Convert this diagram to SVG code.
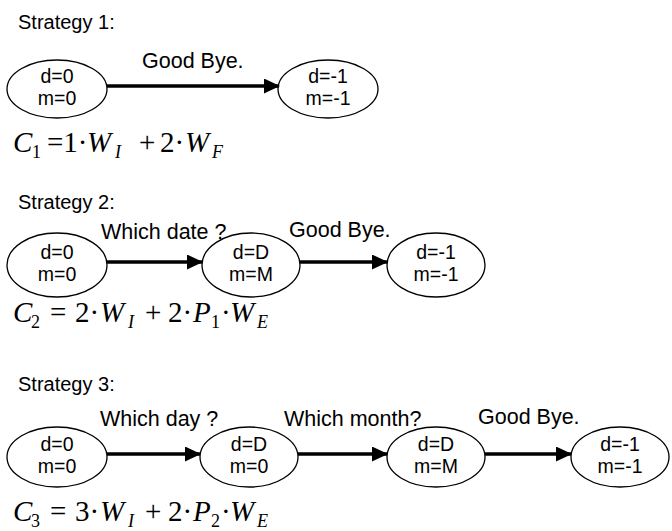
<svg xmlns="http://www.w3.org/2000/svg" width="672" height="531" viewBox="0 0 672 531">
  <style>
    .title { font-family: "Liberation Sans", Arial, sans-serif; font-size: 20px; fill: #000; }
    .lbl { font-family: "Liberation Sans", Arial, sans-serif; font-size: 21.5px; fill: #000; }
    .nt { font-family: "Liberation Sans", Arial, sans-serif; font-size: 19.5px; fill: #000; text-anchor: middle; }
    .node ellipse { fill: #fff; stroke: #000; stroke-width: 1.3; }
    .edge { stroke: #000; stroke-width: 3.6; fill: none; marker-end: url(#head); }
    .eq { font-family: "Liberation Serif", "Times New Roman", serif; font-size: 29px; fill: #000; }
    .eq .i { font-style: italic; }
    .eq .s { font-size: 18px; }
  </style>
  <defs>
    <marker id="head" markerWidth="16" markerHeight="15" refX="15" refY="7.5" orient="auto" markerUnits="userSpaceOnUse">
      <path d="M0,0 L16,7.5 L0,15 Z" fill="#000"/>
    </marker>
  </defs>

  <!-- Strategy 1 -->
  <text class="title" x="18" y="29">Strategy 1:</text>
  <g id="s1-n1" class="node">
    <ellipse cx="57" cy="89" rx="50" ry="29"/>
    <text class="nt" x="57" y="83">d=0</text>
    <text class="nt" x="57" y="105">m=0</text>
  </g>
  <g id="s1-n2" class="node">
    <ellipse cx="328" cy="89" rx="50" ry="29"/>
    <text class="nt" x="328" y="83">d=-1</text>
    <text class="nt" x="328" y="105">m=-1</text>
  </g>
  <text class="lbl" x="142" y="68">Good Bye.</text>
  <!-- C1 = 1·W_I + 2·W_F -->
  <text class="eq" y="152"><tspan class="i" x="13">C</tspan><tspan class="s" x="32" y="158">1</tspan><tspan x="47" y="152">=1·</tspan><tspan class="i" x="87">W</tspan><tspan class="i s" x="115" y="158">I</tspan><tspan x="139" y="152">+</tspan><tspan x="160">2·</tspan><tspan class="i" x="185">W</tspan><tspan class="i s" x="212" y="158">F</tspan></text>

  <!-- Strategy 2 -->
  <text class="title" x="18" y="209">Strategy 2:</text>
  <g id="s2-n1" class="node">
    <ellipse cx="57" cy="265" rx="50" ry="32"/>
    <text class="nt" x="57" y="259">d=0</text>
    <text class="nt" x="57" y="281">m=0</text>
  </g>
  <g id="s2-n2" class="node">
    <ellipse cx="251" cy="265" rx="49" ry="32"/>
    <text class="nt" x="251" y="259">d=D</text>
    <text class="nt" x="251" y="281">m=M</text>
  </g>
  <g id="s2-n3" class="node">
    <ellipse cx="436" cy="265" rx="49" ry="32"/>
    <text class="nt" x="436" y="259">d=-1</text>
    <text class="nt" x="436" y="281">m=-1</text>
  </g>
  <text class="lbl" x="101" y="239">Which date ?</text>
  <text class="lbl" x="289" y="237">Good Bye.</text>
  <!-- C2 = 2·W_I + 2·P_1·W_E -->
  <text class="eq" y="322"><tspan class="i" x="13">C</tspan><tspan class="s" x="31" y="328">2</tspan><tspan x="50" y="322">=</tspan><tspan x="75">2·</tspan><tspan class="i" x="100">W</tspan><tspan class="i s" x="128" y="328">I</tspan><tspan x="145" y="322">+</tspan><tspan x="168">2·</tspan><tspan class="i" x="193">P</tspan><tspan class="s" x="211" y="328">1</tspan><tspan x="221" y="322">·</tspan><tspan class="i" x="230">W</tspan><tspan class="i s" x="257" y="328">E</tspan></text>

  <!-- Strategy 3 -->
  <text class="title" x="18" y="391">Strategy 3:</text>
  <g id="s3-n1" class="node">
    <ellipse cx="57" cy="457" rx="50" ry="30"/>
    <text class="nt" x="57" y="451">d=0</text>
    <text class="nt" x="57" y="473">m=0</text>
  </g>
  <g id="s3-n2" class="node">
    <ellipse cx="249" cy="457" rx="49" ry="30"/>
    <text class="nt" x="249" y="451">d=D</text>
    <text class="nt" x="249" y="473">m=0</text>
  </g>
  <g id="s3-n3" class="node">
    <ellipse cx="436" cy="457" rx="49" ry="30"/>
    <text class="nt" x="436" y="451">d=D</text>
    <text class="nt" x="436" y="473">m=M</text>
  </g>
  <g id="s3-n4" class="node">
    <ellipse cx="620" cy="457" rx="49" ry="30"/>
    <text class="nt" x="620" y="451">d=-1</text>
    <text class="nt" x="620" y="473">m=-1</text>
  </g>
  <text class="lbl" x="100" y="426">Which day ?</text>
  <text class="lbl" x="284" y="426">Which month?</text>
  <text class="lbl" x="478" y="424">Good Bye.</text>
  <!-- C3 = 3·W_I + 2·P_2·W_E -->
  <text class="eq" y="521"><tspan class="i" x="13">C</tspan><tspan class="s" x="31" y="527">3</tspan><tspan x="50" y="521">=</tspan><tspan x="75">3·</tspan><tspan class="i" x="100">W</tspan><tspan class="i s" x="128" y="527">I</tspan><tspan x="145" y="521">+</tspan><tspan x="168">2·</tspan><tspan class="i" x="193">P</tspan><tspan class="s" x="211" y="527">2</tspan><tspan x="221" y="521">·</tspan><tspan class="i" x="230">W</tspan><tspan class="i s" x="257" y="527">E</tspan></text>

  <!-- connectors -->
  <g id="connectors">
    <line class="edge" x1="107" y1="86" x2="279" y2="86"/>
    <line class="edge" x1="107" y1="262" x2="202" y2="262"/>
    <line class="edge" x1="300" y1="262" x2="387" y2="262"/>
    <line class="edge" x1="107" y1="454" x2="200" y2="454"/>
    <line class="edge" x1="298" y1="454" x2="387" y2="454"/>
    <line class="edge" x1="485" y1="454" x2="571" y2="454"/>
  </g>
</svg>
